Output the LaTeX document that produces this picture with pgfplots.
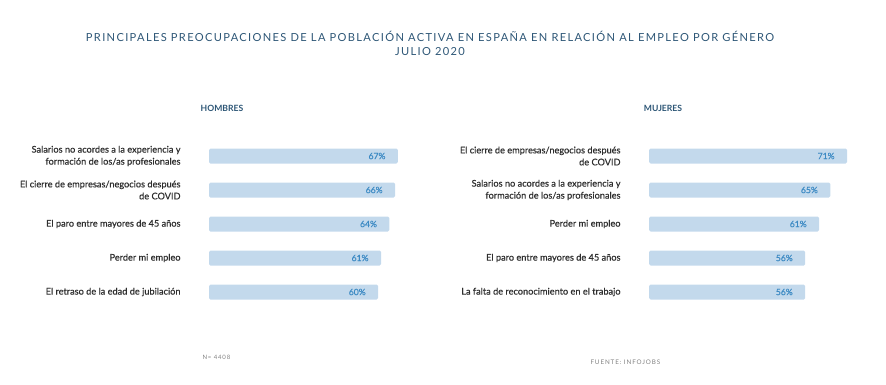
\documentclass[border=0pt]{standalone}
\usepackage{pgfplots}
\pgfplotsset{compat=1.18}
\usepackage{fontspec}
\setmainfont{Lato}
\newfontfamily\titlefont[LetterSpace=12]{Lato}
\newfontfamily\smallfont[LetterSpace=14]{Lato}
\newfontfamily\labfont[FakeBold=0.4]{Lato}
\definecolor{barblue}{HTML}{C3D9EC}
\definecolor{valblue}{HTML}{3C8AC4}
\definecolor{titleblue}{HTML}{2D5676}
\definecolor{labgray}{HTML}{2E2E2E}
\pgfplotsset{
  mybar/.style={
    xbar, scale only axis, clip=false,
    xmin=0, xmax=100, ymin=-0.5, ymax=4.5, y dir=reverse,
    height=170pt,
    enlargelimits=false,
    axis line style={draw=none}, tick style={draw=none},
    xtick=\empty, ytick={0,1,2,3,4},
    bar width=15pt,
    /pgf/number format/assume math mode=true,
    yticklabel style={font=\labfont\fontsize{9.2}{12}\selectfont, text=labgray, align=right, inner sep=0pt, xshift=-24pt},
    nodes near coords={\pgfmathprintnumber{\pgfplotspointmeta}\%},
    every node near coord/.append style={anchor=east, xshift=-9pt, font=\labfont\fontsize{8.6}{10}\selectfont, text=valblue},
  }
}
\begin{document}
\begin{tikzpicture}[x=1pt,y=1pt]
\path[use as bounding box] (0,0) rectangle (886,384);
\node[font=\titlefont\fontsize{11.1}{12}\selectfont, text=titleblue] at (430,348) {PRINCIPALES PREOCUPACIONES DE LA POBLACIÓN ACTIVA EN ESPAÑA EN RELACIÓN AL EMPLEO POR GÉNERO};
\node[font=\titlefont\fontsize{11.1}{12}\selectfont, text=titleblue] at (430,332) {JULIO 2020};
\node[font=\bfseries\fontsize{8.6}{10}\selectfont, text=titleblue] at (222,276) {HOMBRES};
\node[font=\bfseries\fontsize{8.6}{10}\selectfont, text=titleblue] at (663,276) {MUJERES};
\node[font=\smallfont\fontsize{6}{7}\selectfont, text=gray, anchor=west] at (199,27) {N= 4408};
\node[font=\smallfont\fontsize{6.3}{7}\selectfont, text=gray, anchor=west] at (587,22) {FUENTE: INFOJOBS};
\begin{axis}[mybar, at={(209pt,75pt)}, anchor=south west, width=282pt,
  yticklabels={{Salarios no acordes a la experiencia y\\formación de los/as profesionales},{El cierre de empresas/negocios después\\de COVID},{El paro entre mayores de 45 años},{Perder mi empleo},{El retraso de la edad de jubilación}}]
\addplot[fill=barblue, draw=none, rounded corners=1.5pt] coordinates {(67,0) (66,1) (64,2) (61,3) (60,4)};
\end{axis}
\begin{axis}[mybar, at={(649pt,75pt)}, anchor=south west, width=279pt,
  yticklabels={{El cierre de empresas/negocios después\\de COVID},{Salarios no acordes a la experiencia y\\formación de los/as profesionales},{Perder mi empleo},{El paro entre mayores de 45 años},{La falta de reconocimiento en el trabajo}}]
\addplot[fill=barblue, draw=none, rounded corners=1.5pt] coordinates {(71,0) (65,1) (61,2) (56,3) (56,4)};
\end{axis}
\end{tikzpicture}
\end{document}
